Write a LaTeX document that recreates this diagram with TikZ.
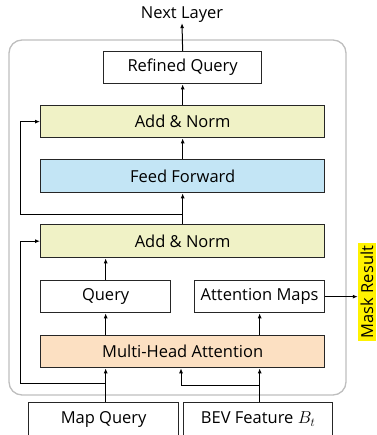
\documentclass[tikz,border=0pt]{standalone}
\usepackage{fontspec}
\setmainfont{Open Sans}
\usetikzlibrary{arrows.meta}
\definecolor{addnorm}{HTML}{F0F2C6}
\definecolor{ffwd}{HTML}{C3E5F5}
\definecolor{mha}{HTML}{FCE0C2}
\definecolor{frame}{HTML}{BEBEBE}
\begin{document}
\begin{tikzpicture}[x=1pt,y=-1pt,
  txt/.style={font=\fontsize{16.5}{18}\selectfont},
  box/.style={txt,draw=black!85,line width=1.3pt,inner sep=0pt,anchor=north west},
  arr/.style={line width=1pt,-{Latex[length=5pt,width=4pt]}},
  ln/.style={line width=1pt}]
\useasboundingbox (0,0) rectangle (376,435);
\draw[frame,line width=1.3pt,rounded corners=13pt] (9,40) rectangle (346,395);
\node[box,minimum width=158pt,minimum height=32pt] (rq) at (103,51) {Refined Query};
\node[box,fill=addnorm,minimum width=284pt,minimum height=32pt] (an1) at (40,105) {Add \& Norm};
\node[box,fill=ffwd,minimum width=284pt,minimum height=33pt] (ff) at (40,159) {Feed Forward};
\node[box,fill=addnorm,minimum width=284pt,minimum height=33pt] (an2) at (40,224) {Add \& Norm};
\node[box,minimum width=130pt,minimum height=32pt] (q) at (40,280) {Query};
\node[box,minimum width=130pt,minimum height=32pt] (am) at (194,280) {Attention Maps};
\node[box,fill=mha,minimum width=284pt,minimum height=32pt] (mh) at (40,335) {Multi-Head Attention};
\node[box,minimum width=150pt,minimum height=33pt] (mq) at (28,402) {Map Query};
\node[box,minimum width=149pt,minimum height=33pt] (bev) at (183,402) {BEV Feature $B_t$};
\node[txt,inner sep=0pt] (nl) at (182,15) {Next Layer};
\node[txt,fill=yellow,rotate=90,inner sep=0pt,minimum width=98pt,minimum height=18pt,anchor=center] (mr) at (367,292) {Mask Result};
% coordinates
\coordinate (sk1) at (20,214);
\coordinate (sk2) at (20,383);
\coordinate (bj) at (181,385);
% arrows
\draw[arr] (rq.north) -- (nl.south);
\draw[arr] (an1.north -| rq.south) -- (rq.south);
\draw[arr] (ff.north) -- (an1.south);
\draw[arr] (an2.north) -- (ff.south);
\draw[ln] (an2.north |- sk1) -- (sk1);
\draw[arr] (sk1) |- (an1.west);
\draw[arr] (q.north) -- (q.north |- an2.south);
\draw[arr] (q.south |- mh.north) -- (q.south);
\draw[arr] (am.south |- mh.north) -- (am.south);
\draw[arr] (am.east) -- (am.east -| mr.north);
\draw[arr] (q.south |- mq.north) -- (q.south |- mh.south);
\draw[arr] (am.south |- bev.north) -- (am.south |- mh.south);
\draw[ln] (q.south |- sk2) -- (sk2);
\draw[arr] (sk2) |- (an2.west);
\draw[arr] (am.south |- bj) -- (bj) -- (bj |- mh.south);
\end{tikzpicture}
\end{document}
